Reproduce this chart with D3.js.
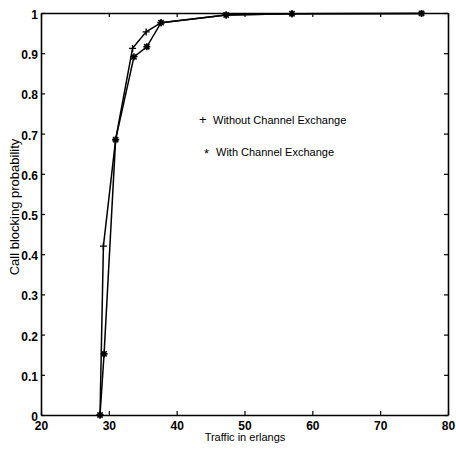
<!DOCTYPE html>
<html>
<head>
<meta charset="utf-8">
<script src="https://cdn.jsdelivr.net/npm/d3@7"></script>
<style>
    body { margin: 0; background: #fff; }
    text { font-family: "Liberation Sans", Arial, sans-serif; fill: #000; }
</style>
</head>
<body>
<div id="chart"></div>
<script>
// Data
var withoutX = [28.7, 29.2, 31.0, 33.5, 35.5, 37.7, 47.3, 57.0, 76.1];
var withoutY = [0, 0.42, 0.685, 0.912, 0.953, 0.976, 0.995, 0.998, 0.999];
var withX = [28.7, 29.3, 31.0, 33.7, 35.6, 37.7, 47.3, 57.0, 76.1];
var withY = [0, 0.152, 0.685, 0.891, 0.916, 0.976, 0.995, 0.998, 0.999];
var xTicks = [20, 30, 40, 50, 60, 70, 80];
var yTicks = [0, 0.1, 0.2, 0.3, 0.4, 0.5, 0.6, 0.7, 0.8, 0.9, 1];
var legendLabels = ["Without Channel Exchange", "With Channel Exchange"];

var width = 456, height = 450;
var plotLeft = 41, plotRight = 448, plotTop = 13, plotBottom = 415;

var svg = d3.select("#chart").append("svg")
    .attr("width", width)
    .attr("height", height);

var x = d3.scaleLinear().domain([20, 80]).range([plotLeft, plotRight]);
var y = d3.scaleLinear().domain([0, 1]).range([plotBottom, plotTop]);

// Axes, matlab style ticks pointing in
var tickFmt = function (d) { return String(+d.toFixed(1)); };

var xAxis = svg.append("g")
    .attr("transform", "translate(0," + plotBottom + ")")
    .call(d3.axisBottom(x).tickValues(xTicks).tickSizeInner(-4).tickSizeOuter(0).tickPadding(6));
var xTop = svg.append("g")
    .attr("transform", "translate(0," + plotTop + ")")
    .call(d3.axisTop(x).tickValues(xTicks).tickSizeInner(-4).tickSizeOuter(0).tickFormat(""));
var yAxis = svg.append("g")
    .attr("transform", "translate(" + plotLeft + ",0)")
    .call(d3.axisLeft(y).tickValues(yTicks).tickSizeInner(-4).tickSizeOuter(0).tickPadding(3).tickFormat(tickFmt));
var yRight = svg.append("g")
    .attr("transform", "translate(" + plotRight + ",0)")
    .call(d3.axisRight(y).tickValues(yTicks).tickSizeInner(-4).tickSizeOuter(0).tickFormat(""));

svg.selectAll(".domain").attr("stroke", "#000").attr("stroke-width", 1.6);
svg.selectAll(".tick line").attr("stroke", "#000").attr("stroke-width", 1.2);
svg.selectAll(".tick text")
    .style("font-family", "'Liberation Sans', Arial, sans-serif")
    .style("font-size", "12px")
    .style("font-weight", "bold");
yAxis.selectAll(".tick text").attr("dy", "0.45em");

// Axis titles
svg.append("text")
    .attr("x", 245)
    .attr("y", 441)
    .attr("text-anchor", "middle")
    .style("font-size", "11px")
    .text("Traffic in erlangs");

svg.append("text")
    .attr("transform", "translate(19,207) rotate(-90)")
    .attr("text-anchor", "middle")
    .style("font-size", "13px")
    .text("Call blocking probability");

// Lines
var line = d3.line()
    .x(function (d) { return x(d[0]); })
    .y(function (d) { return y(d[1]); });

var withoutPts = d3.zip(withoutX, withoutY);
var withPts = d3.zip(withX, withY);

svg.append("path")
    .datum(withoutPts)
    .attr("d", line)
    .attr("fill", "none")
    .attr("stroke", "#000")
    .attr("stroke-width", 1.5);

svg.append("path")
    .datum(withPts)
    .attr("d", line)
    .attr("fill", "none")
    .attr("stroke", "#000")
    .attr("stroke-width", 1.5);

// Markers
var s = 3.5;
svg.selectAll(".plus")
    .data(withoutPts)
    .enter().append("path")
    .attr("class", "plus")
    .attr("transform", function (d) { return "translate(" + x(d[0]) + "," + y(d[1]) + ")"; })
    .attr("d", "M" + (-s) + ",0H" + s + "M0," + (-s) + "V" + s)
    .attr("stroke", "#000")
    .attr("stroke-width", 1.4);

svg.selectAll(".star")
    .data(withPts)
    .enter().append("path")
    .attr("class", "star")
    .attr("transform", function (d) { return "translate(" + x(d[0]) + "," + y(d[1]) + ")"; })
    .attr("d", "M" + (-s) + ",0H" + s + "M0," + (-s) + "V" + s +
        "M" + (-s * 0.75) + "," + (-s * 0.75) + "L" + (s * 0.75) + "," + (s * 0.75) +
        "M" + (-s * 0.75) + "," + (s * 0.75) + "L" + (s * 0.75) + "," + (-s * 0.75))
    .attr("stroke", "#000")
    .attr("stroke-width", 1.6);

// Legend, plain text symbols as in the original
var legend = svg.append("g");
legend.append("text").attr("x", 199).attr("y", 124).style("font-size", "13px").text("+");
legend.append("text").attr("x", 213).attr("y", 124).style("font-size", "11px").text(legendLabels[0]);
legend.append("text").attr("x", 204).attr("y", 158).style("font-size", "13px").text("*");
legend.append("text").attr("x", 216).attr("y", 156).style("font-size", "11px").text(legendLabels[1]);
</script>
</body>
</html>
